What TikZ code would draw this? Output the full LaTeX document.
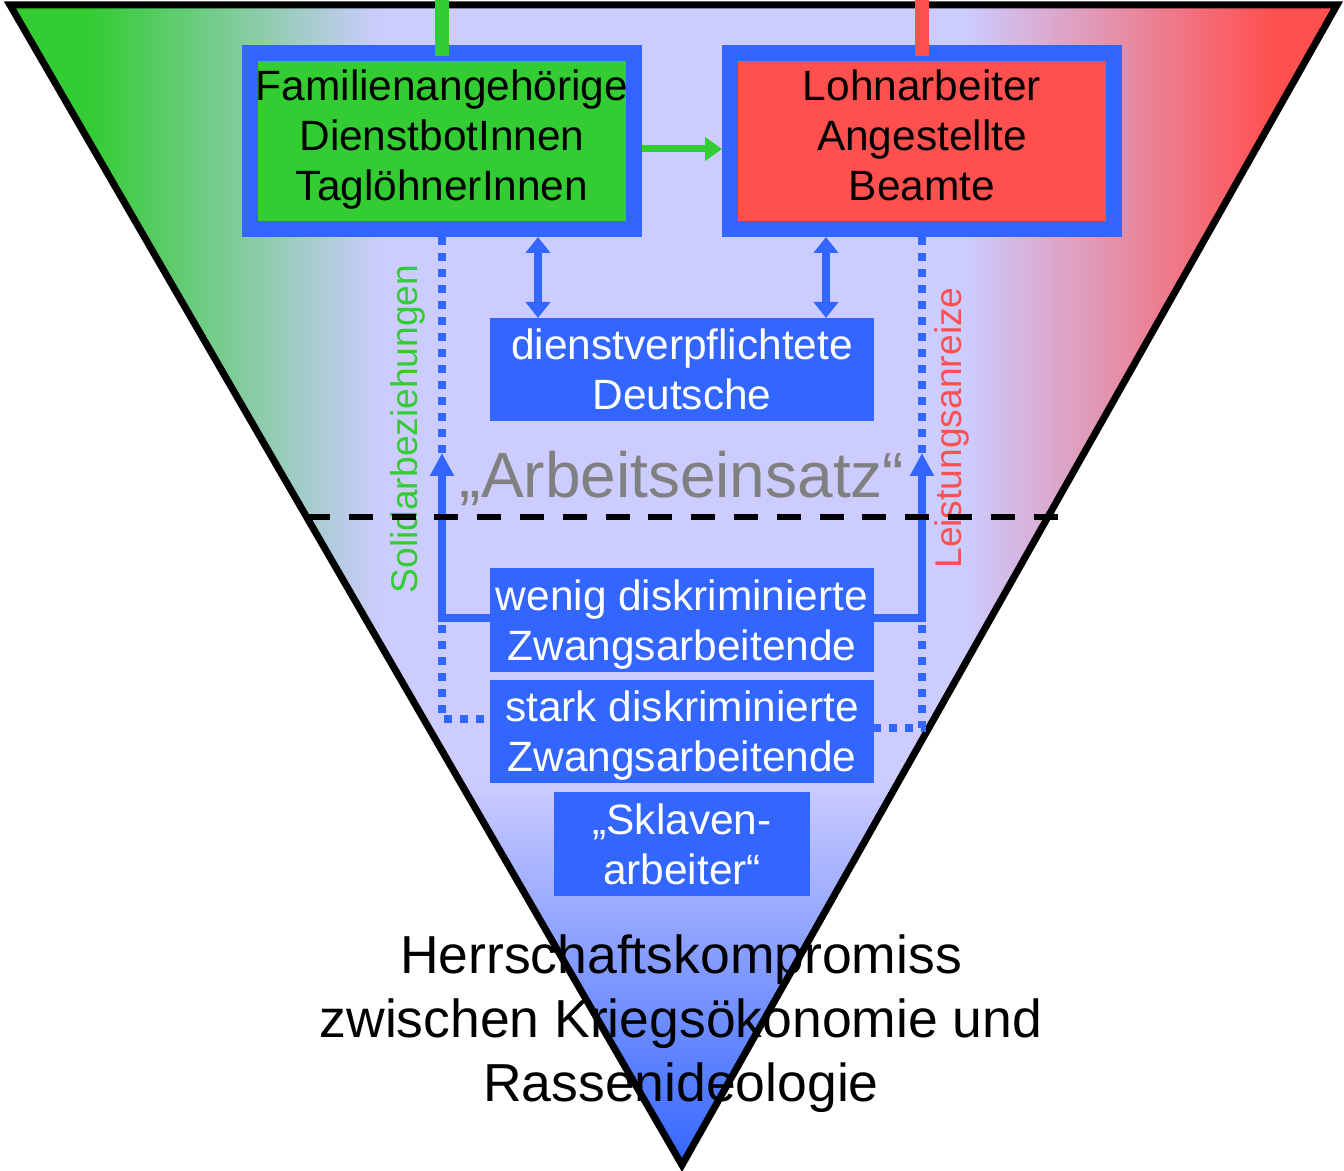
\documentclass[tikz,border=0pt]{standalone}
\usepackage{fontspec}
\setmainfont{Liberation Sans}
\usetikzlibrary{arrows.meta}
\definecolor{grn}{HTML}{33CC33}
\definecolor{rd}{HTML}{FF5050}
\definecolor{lav}{HTML}{CCCCFF}
\definecolor{blu}{HTML}{3366FF}
\definecolor{gry}{HTML}{808080}
\newcommand\boxfont{\fontsize{21.2}{25}\selectfont}
\newcommand\bigfont{\fontsize{32}{38}\selectfont}
\newcommand\sidefont{\fontsize{18.6}{22}\selectfont}
\newcommand\botfont{\fontsize{26.75}{32}\selectfont}
\newcommand\tstrut{\rule{0pt}{20pt}}
\newcommand\bstrut{\rule[-5pt]{0pt}{5pt}}
\tikzset{
  topbox/.style={draw=blu, line width=8pt, minimum width=192pt, minimum height=88pt,
    inner sep=0pt, align=center, font=\boxfont, text=black},
  bluebox/.style={fill=blu, draw=none, inner sep=0pt, outer sep=0pt, minimum width=192pt,
    minimum height=52pt, align=center, font=\boxfont, text=white},
  solidblue/.style={draw=blu, line width=4pt},
  dotblue/.style={draw=blu, line width=4pt, dash pattern=on 4pt off 4pt},
  bitip/.style={{Triangle[width=12pt,length=8pt]}-{Triangle[width=12pt,length=8pt]}},
  uptip/.style={-{Triangle[width=11.5pt,length=11.5pt]}},
  sidelabel/.style={font=\sidefont, rotate=90, anchor=base, inner sep=0pt},
  topline/.style={line width=7pt, shorten <=-5.5pt}
}
\begin{document}
\begin{tikzpicture}[x=0.5pt,y=-0.5pt]
\useasboundingbox (0,0) rectangle (1344,1171);
% background fill of the funnel
\begin{scope}
  \clip (10,5) -- (1337,5) -- (682,1165) -- cycle;
  \fill[lav] (0,0) rectangle (1344,1171);
  \fill[grn] (0,0) rectangle (91,680);
  \shade[left color=grn, right color=lav] (90,0) rectangle (380,680);
  \shade[left color=lav, right color=rd] (965,0) rectangle (1272,680);
  \fill[rd] (1271,0) rectangle (1344,680);
  \shade[top color=lav, bottom color=blu] (0,780) rectangle (1344,1168);
\end{scope}
\draw[line width=3.5pt, line join=miter] (10,5) -- (1337,5) -- (682,1165) -- cycle;

% boxes
\node[topbox, fill=grn] (fam) at (442,141) {\strut Familienangehörige\\DienstbotInnen\\TaglöhnerInnen\strut};
\node[topbox, fill=rd] (lohn) at (922,141) {\strut Lohnarbeiter\\Angestellte\\Beamte\strut};
\node[bluebox, minimum height=51.5pt] (dienst) at (682,369.5) {\tstrut dienstverpflichtete\\Deutsche\bstrut};
\node[bluebox] (wenig) at (682,620) {\tstrut wenig diskriminierte\\Zwangsarbeitende\bstrut};
\node[bluebox, minimum height=51.5pt] (stark) at (682,731.5) {\tstrut stark diskriminierte\\Zwangsarbeitende\bstrut};
\node[bluebox, minimum width=128pt] (sklav) at (682,844) {\tstrut „Sklaven-\\arbeiter“\bstrut};

% coordinates
\coordinate (top) at (0,0);
\coordinate (ga) at (0,149);
\coordinate (cL) at (538,0);
\coordinate (cR) at (826,0);
\coordinate (aL) at (442,453);
\coordinate (aR) at (922,453);
\coordinate (sy) at (0,618);
\coordinate (dL) at (442,625);
\coordinate (dR) at (922,625);
\coordinate (ly) at (0,719);
\coordinate (ry) at (0,728);
\coordinate (dl) at (306,517);
\coordinate (dr) at (1058,517);

% top lines
\draw[grn, topline] (fam.north) -- (fam.north |- top);
\draw[rd, topline] (lohn.north) -- (lohn.north |- top);

% green arrow
\draw[grn, line width=3.5pt, -{Triangle[width=11.5pt,length=8.5pt]}] (fam.east |- ga) -- (lohn.west |- ga);

% double arrows
\draw[solidblue, bitip] (fam.south -| cL) -- (dienst.north -| cL);
\draw[solidblue, bitip] (lohn.south -| cR) -- (dienst.north -| cR);

% labels
\node[gry, font=\bigfont, anchor=base, inner sep=0pt] (einsatz) at (682,497) {„Arbeitseinsatz“};
\node[grn, sidelabel] (solid) at (417,429) {Solidarbeziehungen};
\node[rd, sidelabel] (leist) at (961,428) {Leistungsanreize};

% dotted connectors
\draw[dotblue] (fam.south) -- (aL);
\draw[dotblue] (lohn.south) -- (aR);
\draw[dotblue] (dL) |- (stark.west |- ly);
\draw[dotblue] (dR) |- (stark.east |- ry);

% solid arrows up
\draw[solidblue, uptip] (wenig.west |- sy) -| (aL);
\draw[solidblue, uptip] (wenig.east |- sy) -| (aR);

% dashed separator
\draw[black, line width=3.3pt, dash pattern=on 12pt off 9.4pt] (dl) -- (dr);

% bottom text
\node[font=\botfont, align=center, inner sep=0pt] (herr) at (681,1025) {\strut Herrschaftskompromiss\\zwischen Kriegsökonomie und\\Rassenideologie\strut};
\end{tikzpicture}
\end{document}
